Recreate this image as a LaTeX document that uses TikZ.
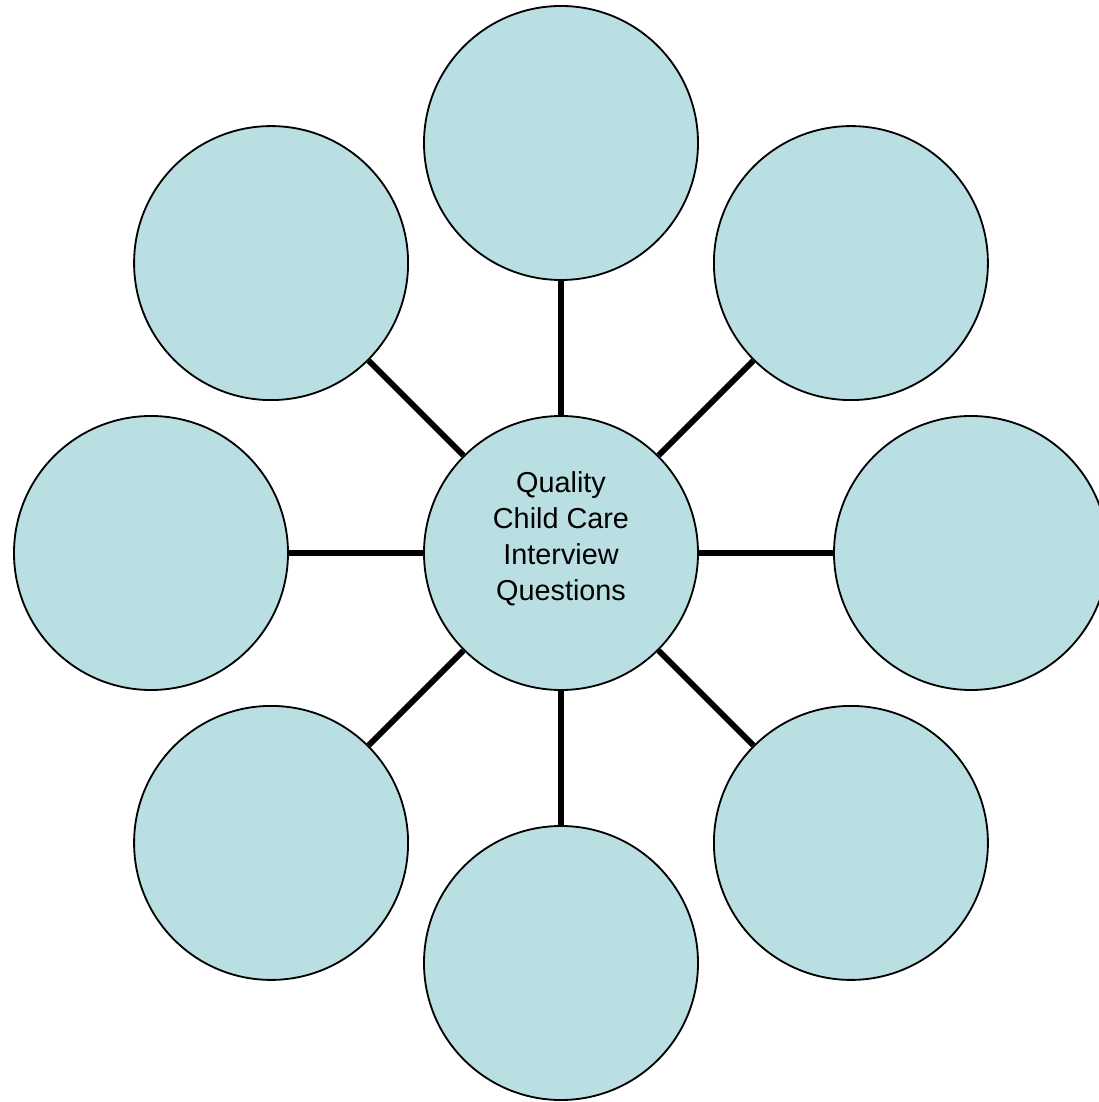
\documentclass[tikz,border=0pt]{standalone}
\usepackage{fontspec}
\setmainfont{Liberation Sans}
\usepackage{tikz}
\usetikzlibrary{positioning}
\definecolor{bubblefill}{HTML}{BADFE3}

\begin{document}
\begin{tikzpicture}[thick,
	bubble/.style={circle, draw=black, line width=1.3pt, fill=bubblefill, minimum size=6.85cm, inner sep=0pt},
	spoke/.style={line width=4.25pt, black}]
		%%Location
		\useasboundingbox (-14.025,-13.725) rectangle (13.425,13.825);
		%%Hub
		\node[bubble, label={[name=hubtext, align=center, yshift=0.35cm, font=\fontsize{20.5}{25.5}\selectfont]center:Quality\\Child Care\\Interview\\Questions}] (hub) at (0,0) {};
		%%Outer bubbles
		\node[bubble] (top) at (90:10.25) {};
		\node[bubble] (topright) at (45:10.25) {};
		\node[bubble] (right) at (0:10.25) {};
		\node[bubble] (botright) at (-45:10.25) {};
		\node[bubble] (bottom) at (-90:10.25) {};
		\node[bubble] (botleft) at (-135:10.25) {};
		\node[bubble] (left) at (180:10.25) {};
		\node[bubble] (topleft) at (135:10.25) {};
		%%Spokes
		\draw[spoke] (hub) -- (top);
		\draw[spoke] (hub) -- (topright);
		\draw[spoke] (hub) -- (right);
		\draw[spoke] (hub) -- (botright);
		\draw[spoke] (hub) -- (bottom);
		\draw[spoke] (hub) -- (botleft);
		\draw[spoke] (hub) -- (left);
		\draw[spoke] (hub) -- (topleft);
		\end{tikzpicture}
\end{document}
